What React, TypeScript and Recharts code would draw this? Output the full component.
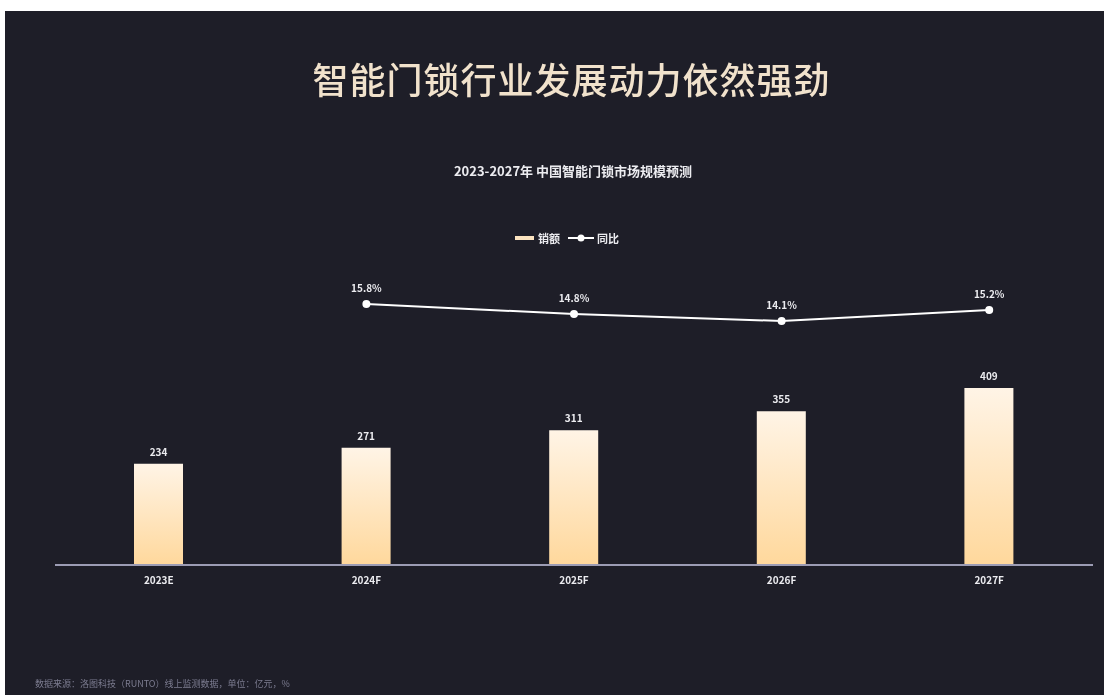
import { ComposedChart, Bar, Line, XAxis, YAxis, LabelList } from "recharts";

const years = ["2023E", "2024F", "2025F", "2026F", "2027F"];
const sales = [234, 271, 311, 355, 409];
const yoy: (number | null)[] = [null, 15.8, 14.8, 14.1, 15.2];

const data = years.map((y, i) => ({ year: y, sales: sales[i], yoy: yoy[i] }));

const FONT = '"Noto Sans CJK SC", "Noto Sans", sans-serif';

export default function App() {
  return (
    <div style={{ position: "fixed", left: 0, top: 0, width: 1104, height: 695, background: "#fff", fontFamily: FONT }}>
      <div style={{ position: "absolute", left: 5, top: 11, width: 1099, height: 684, background: "#1e1e28" }}>
        <div style={{ position: "absolute", left: 17, width: 1099, top: 41, textAlign: "center", fontSize: 36, fontWeight: 500, color: "#f1e2cc", letterSpacing: 1 }}>
          智能门锁行业发展动力依然强劲
        </div>
        <div style={{ position: "absolute", left: 0, width: 1136, top: 150, textAlign: "center", fontSize: 13, fontWeight: 700, color: "#ececf0" }}>
          2023-2027年 中国智能门锁市场规模预测
        </div>
        <div style={{ position: "absolute", left: 510, top: 219, display: "flex", alignItems: "center", fontSize: 11, color: "#ececf0", fontWeight: 700 }}>
          <span style={{ width: 19, height: 4, background: "#fbe3c0", display: "inline-block", marginRight: 4 }} />
          <span>销额</span>
          <svg width={26} height={10} style={{ marginLeft: 8, marginRight: 3 }}>
            <line x1={0} y1={5} x2={26} y2={5} stroke="#fff" strokeWidth={2} />
            <circle cx={13} cy={5} r={3.5} fill="#fff" />
          </svg>
          <span>同比</span>
        </div>
        <div style={{ position: "absolute", left: 0, top: 0 }}>
          <ComposedChart width={1099} height={684} data={data} margin={{ top: 254, right: 11, bottom: 100, left: 50 }}>
            <defs>
              <linearGradient id="barFill" x1="0" y1="0" x2="0" y2="1">
                <stop offset="0%" stopColor="#fff4e6" />
                <stop offset="100%" stopColor="#ffd89c" />
              </linearGradient>
            </defs>
            <XAxis
              dataKey="year"
              axisLine={{ stroke: "#9c9cb4", strokeWidth: 2 }}
              tickLine={false}
              tick={{ fontSize: 10, fill: "#ececf0", fontWeight: 700, fontFamily: FONT }}
              height={30}
              tickMargin={6}
            />
            <YAxis yAxisId="left" hide domain={[0, 693]} />
            <YAxis yAxisId="right" orientation="right" hide domain={[-10.3, 19.7]} />
            <Bar yAxisId="left" dataKey="sales" fill="url(#barFill)" barSize={49} isAnimationActive={false}>
              <LabelList dataKey="sales" position="top" offset={8} fill="#ececf0" fontSize={10} fontWeight={700} fontFamily={FONT} />
            </Bar>
            <Line
              yAxisId="right"
              dataKey="yoy"
              stroke="#ffffff"
              strokeWidth={2}
              dot={{ r: 4, fill: "#ffffff", stroke: "#ffffff", strokeWidth: 0 }}
              isAnimationActive={false}
              connectNulls={false}
            >
              <LabelList
                dataKey="yoy"
                position="top"
                offset={12}
                fill="#ececf0"
                fontSize={10}
                fontWeight={700}
                fontFamily={FONT}
                formatter={(v: any) => (v == null ? "" : `${Number(v).toFixed(1)}%`)}
              />
            </Line>
          </ComposedChart>
        </div>
        <div style={{ position: "absolute", left: 30, top: 666, fontSize: 9, color: "#7c7c90" }}>
          数据来源：洛图科技（RUNTO）线上监测数据，单位：亿元，%
        </div>
      </div>
    </div>
  );
}
